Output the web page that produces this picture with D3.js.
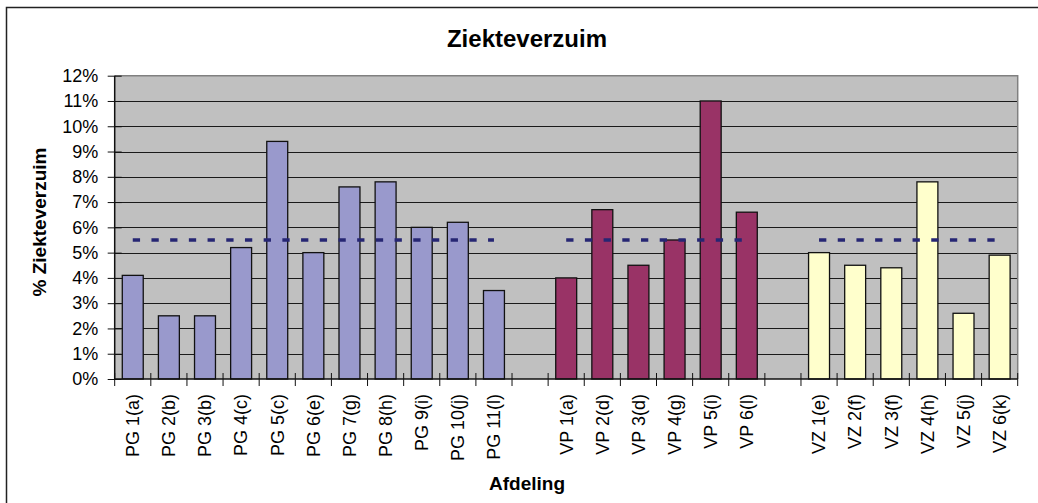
<!DOCTYPE html>
<html>
<head>
<meta charset="utf-8">
<script src="https://cdn.jsdelivr.net/npm/d3@7"></script>
<style>
  body { margin: 0; background: #fff; }
  text { font-family: "Liberation Sans", Arial, sans-serif; fill: #000; }
</style>
</head>
<body>
<div id="chart"></div>
<script>
// departments per group
var pgLabels = ["PG 1(a)", "PG 2(b)", "PG 3(b)", "PG 4(c)", "PG 5(c)", "PG 6(e)", "PG 7(g)", "PG 8(h)", "PG 9(i)", "PG 10(j)", "PG 11(l)"];
var vpLabels = ["VP 1(a)", "VP 2(d)", "VP 3(d)", "VP 4(g)", "VP 5(i)", "VP 6(l)"];
var vzLabels = ["VZ 1(e)", "VZ 2(f)", "VZ 3(f)", "VZ 4(h)", "VZ 5(j)", "VZ 6(k)"];

// sick leave in %
var pgValues = [4.1, 2.5, 2.5, 5.2, 9.4, 5.0, 7.6, 7.8, 6.0, 6.2, 3.5];
var vpValues = [4.0, 6.7, 4.5, 5.5, 11.0, 6.6];
var vzValues = [5.0, 4.5, 4.4, 7.8, 2.6, 4.9];

// norm line per group
var groupAverages = [5.5, 5.5, 5.5];
var yTicks = [0, 1, 2, 3, 4, 5, 6, 7, 8, 9, 10, 11, 12];

var w = 1038, h = 503;
var plot = {left: 114.7, right: 1017.7, top: 75.7, bottom: 379};

var svg = d3.select("#chart").append("svg")
  .attr("width", w)
  .attr("height", h);

// chart border (runs off the right and bottom of the picture)
svg.append("rect")
  .attr("x", 6.5).attr("y", 7.5)
  .attr("width", 1050).attr("height", 520)
  .attr("fill", "#fff")
  .attr("stroke", "#222")
  .attr("stroke-width", 1.5);

// build groups with one empty slot between them
var groups = [
  {labels: pgLabels, values: pgValues, color: "#9999cc", avg: groupAverages[0]},
  {labels: vpLabels, values: vpValues, color: "#993366", avg: groupAverages[1]},
  {labels: vzLabels, values: vzValues, color: "#ffffcc", avg: groupAverages[2]}
];
var slots = [];
var bars = [];
groups.forEach(function(g, gi) {
  if (gi > 0) slots.push("gap" + gi);
  g.labels.forEach(function(l, i) {
    slots.push(l);
    bars.push({label: l, value: g.values[i], color: g.color});
  });
});

var x = d3.scaleBand().domain(slots).range([plot.left, plot.right]).padding(0);
var y = d3.scaleLinear().domain([0, 12]).range([plot.bottom, plot.top]);

// plot background
svg.append("rect")
  .attr("x", plot.left).attr("y", plot.top)
  .attr("width", plot.right - plot.left)
  .attr("height", plot.bottom - plot.top)
  .attr("fill", "#c0c0c0");

// gridlines
svg.append("g").selectAll("line")
  .data(yTicks.slice(1, -1))
  .enter().append("line")
  .attr("x1", plot.left).attr("x2", plot.right)
  .attr("y1", function(d) { return Math.round(y(d)) + 0.5; })
  .attr("y2", function(d) { return Math.round(y(d)) + 0.5; })
  .attr("stroke", "#1a1a1a")
  .attr("stroke-width", 1);

// plot frame top + right
svg.append("path")
  .attr("d", "M" + plot.left + "," + plot.top + "H" + plot.right + "V" + plot.bottom)
  .attr("fill", "none")
  .attr("stroke", "#808080")
  .attr("stroke-width", 1.5);

// bars
var bw = x.bandwidth() * 0.58;
svg.append("g").selectAll("rect")
  .data(bars)
  .enter().append("rect")
  .attr("x", function(d) { return x(d.label) + (x.bandwidth() - bw) / 2; })
  .attr("y", function(d) { return y(d.value); })
  .attr("width", bw)
  .attr("height", function(d) { return y(0) - y(d.value); })
  .attr("fill", function(d) { return d.color; })
  .attr("stroke", "#111")
  .attr("stroke-width", 1.3);

// dashed norm lines
groups.forEach(function(g) {
  var first = g.labels[0], last = g.labels[g.labels.length - 1];
  svg.append("line")
    .attr("x1", x(first) + x.bandwidth() / 2)
    .attr("x2", x(last) + x.bandwidth() / 2)
    .attr("y1", y(g.avg)).attr("y2", y(g.avg))
    .attr("stroke", "#262673")
    .attr("stroke-width", 3.3)
    .attr("stroke-dasharray", "7.3,11.4");
});

// y axis
var yAxis = d3.axisLeft(y)
  .tickValues(yTicks)
  .tickSize(0)
  .tickPadding(0)
  .tickFormat(function(d) { return d + "%"; });
var yg = svg.append("g").attr("transform", "translate(" + plot.left + ",0)").call(yAxis);
yg.select(".domain").remove();
yg.selectAll("text")
  .attr("x", -16.5)
  .attr("font-size", 18)
  .attr("font-family", "Liberation Sans, Arial, sans-serif");
yg.selectAll(".tick").append("line")
  .attr("x1", -7).attr("x2", 7)
  .attr("stroke", "#111");
svg.append("line")
  .attr("x1", plot.left).attr("x2", plot.left)
  .attr("y1", plot.top).attr("y2", plot.bottom)
  .attr("stroke", "#111").attr("stroke-width", 1.5);

// x axis with ticks on slot boundaries
var bounds = slots.map(function(s) { return x(s); }).concat([plot.right]);
svg.append("line")
  .attr("x1", plot.left).attr("x2", plot.right)
  .attr("y1", plot.bottom).attr("y2", plot.bottom)
  .attr("stroke", "#111").attr("stroke-width", 1.5);
svg.append("g").selectAll("line")
  .data(bounds)
  .enter().append("line")
  .attr("x1", function(d) { return d; }).attr("x2", function(d) { return d; })
  .attr("y1", plot.bottom - 6).attr("y2", plot.bottom + 7)
  .attr("stroke", "#111");

svg.append("g").selectAll("text")
  .data(bars)
  .enter().append("text")
  .attr("transform", function(d) {
    return "translate(" + (x(d.label) + x.bandwidth() / 2) + ",394) rotate(-90)";
  })
  .attr("text-anchor", "end")
  .attr("dy", "0.35em")
  .attr("font-size", 18)
  .text(function(d) { return d.label; });

// titles
svg.append("text")
  .attr("x", 527).attr("y", 47)
  .attr("text-anchor", "middle")
  .attr("font-size", 24)
  .attr("font-weight", "bold")
  .text("Ziekteverzuim");

svg.append("text")
  .attr("x", 527).attr("y", 490)
  .attr("text-anchor", "middle")
  .attr("font-size", 19)
  .attr("font-weight", "bold")
  .text("Afdeling");

svg.append("text")
  .attr("transform", "translate(46,222) rotate(-90)")
  .attr("text-anchor", "middle")
  .attr("font-size", 19)
  .attr("font-weight", "bold")
  .text("% Ziekteverzuim");
</script>
</body>
</html>
